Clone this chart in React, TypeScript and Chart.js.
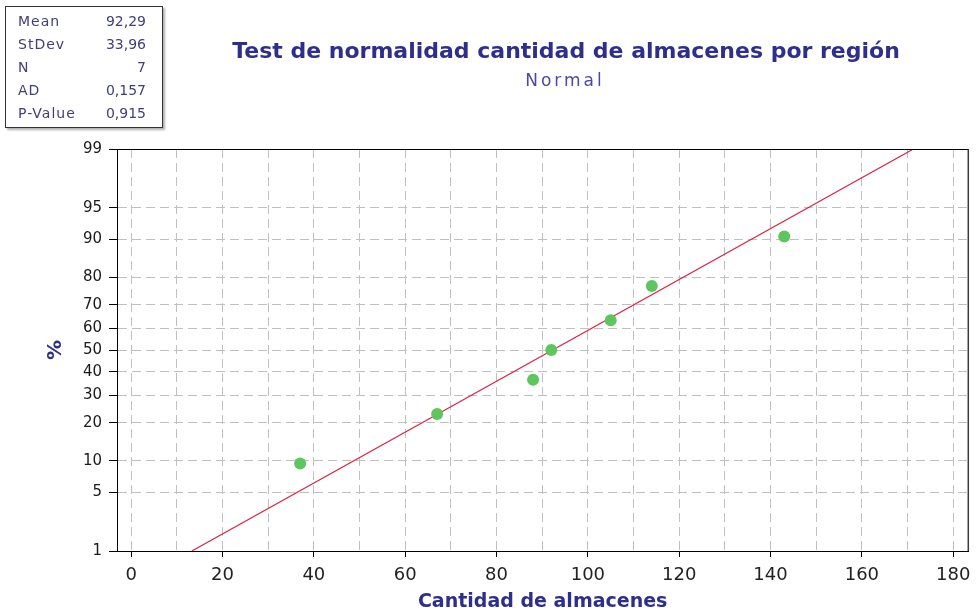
import React, { useEffect, useRef } from 'react';
import { Chart, registerables, LinearScale } from 'chart.js';

// ---------------- data ----------------
const storeCounts = [37, 67, 88, 92, 105, 114, 143];
const percentPoints = [9.46, 22.97, 36.49, 50, 63.51, 77.03, 90.54];
const fitLineX = [13.29, 171.29];
const fitLineY = [1, 99];
const yTickValues = [1, 5, 10, 20, 30, 40, 50, 60, 70, 80, 90, 95, 99];
const xGridValues = [0, 10, 20, 30, 40, 50, 60, 70, 80, 90, 100, 110, 120, 130, 140, 150, 160, 170, 180];
const xLabelStep = 20;
const xMin = -3.1;
const xMax = 183.3;
const yMin = 1;
const yMax = 99;
const statLabels = ['Mean', 'StDev', 'N', 'AD', 'P-Value'];
const statValues = ['92,29', '33,96', '7', '0,157', '0,915'];
const chartTitle = 'Test de normalidad cantidad de almacenes por región';
const chartSubtitle = 'Normal';
const xAxisTitle = 'Cantidad de almacenes';
const yAxisTitle = '%';

// ---------------- normal helpers ----------------
function normInv(p: number): number {
  p = Math.min(Math.max(p, 1e-12), 1 - 1e-12);
  const a = [-3.969683028665376e1, 2.209460984245205e2, -2.759285104469687e2, 1.38357751867269e2, -3.066479806614716e1, 2.506628277459239];
  const b = [-5.447609879822406e1, 1.615858368580409e2, -1.556989798598866e2, 6.680131188771972e1, -1.328068155288572e1];
  const c = [-7.784894002430293e-3, -3.223964580411365e-1, -2.400758277161838, -2.549732539343734, 4.374664141464968, 2.938163982698783];
  const d = [7.784695709041462e-3, 3.224671290700398e-1, 2.445134137142996, 3.754408661907416];
  const pl = 0.02425;
  const ph = 1 - pl;
  if (p < pl) {
    const q = Math.sqrt(-2 * Math.log(p));
    return (((((c[0] * q + c[1]) * q + c[2]) * q + c[3]) * q + c[4]) * q + c[5]) / ((((d[0] * q + d[1]) * q + d[2]) * q + d[3]) * q + 1);
  }
  if (p <= ph) {
    const q = p - 0.5;
    const r = q * q;
    return ((((((a[0] * r + a[1]) * r + a[2]) * r + a[3]) * r + a[4]) * r + a[5]) * q) / (((((b[0] * r + b[1]) * r + b[2]) * r + b[3]) * r + b[4]) * r + 1);
  }
  const q = Math.sqrt(-2 * Math.log(1 - p));
  return -(((((c[0] * q + c[1]) * q + c[2]) * q + c[3]) * q + c[4]) * q + c[5]) / ((((d[0] * q + d[1]) * q + d[2]) * q + d[3]) * q + 1);
}

function normCdf(z: number): number {
  const t = 1 / (1 + 0.3275911 * Math.abs(z) / Math.SQRT2);
  const y = 1 - (((((1.061405429 * t - 1.453152027) * t + 1.421413741) * t - 0.284496736) * t + 0.254829592) * t) * Math.exp(-(z * z) / 2);
  return z >= 0 ? 0.5 * (1 + y) : 0.5 * (1 - y);
}

// ---------------- probability (probit) scale ----------------
class ProbitScale extends LinearScale {
  static id = 'probit';
  static defaults = LinearScale.defaults;

  getPixelForValue(value: any) {
    if (value === null || value === undefined || isNaN(value)) return NaN;
    const z0 = normInv(this.min / 100);
    const z1 = normInv(this.max / 100);
    const z = normInv(value / 100);
    return this.getPixelForDecimal((z - z0) / (z1 - z0));
  }

  getValueForPixel(pixel: number) {
    const z0 = normInv(this.min / 100);
    const z1 = normInv(this.max / 100);
    const dec = this.getDecimalForPixel(pixel);
    return 100 * normCdf(z0 + dec * (z1 - z0));
  }
}

Chart.register(...registerables, ProbitScale as any);

const INK = '#2e2e8c';
const GRID = '#c0c0c0';

const framePlugin = {
  id: 'frameLines',
  afterDraw(chart: any) {
    const { ctx, chartArea } = chart;
    ctx.save();
    ctx.strokeStyle = '#000';
    ctx.lineWidth = 1;
    ctx.beginPath();
    ctx.moveTo(chartArea.left, Math.round(chartArea.top) + 0.5);
    ctx.lineTo(chartArea.right, Math.round(chartArea.top) + 0.5);
    ctx.stroke();
    ctx.strokeStyle = '#3a3a3a';
    ctx.lineWidth = 1.5;
    ctx.beginPath();
    ctx.moveTo(chartArea.right, chartArea.top);
    ctx.lineTo(chartArea.right, chartArea.bottom);
    ctx.stroke();
    ctx.restore();
  },
};

function ProbPlot() {
  const ref = useRef<HTMLCanvasElement | null>(null);
  useEffect(() => {
    if (!ref.current) return;
    const chart = new Chart(ref.current, {
      type: 'scatter',
      data: {
        datasets: [
          {
            label: 'Datos',
            data: storeCounts.map((x, i) => ({ x, y: percentPoints[i] })),
            pointRadius: 6,
            pointBackgroundColor: '#5ec65e',
            pointBorderWidth: 0,
            pointBorderColor: '#5ec65e',
            showLine: false,
          },
          {
            label: 'Ajuste',
            data: fitLineX.map((x, i) => ({ x, y: fitLineY[i] })),
            showLine: true,
            borderColor: '#dc2340',
            borderWidth: 1.2,
            pointRadius: 0,
            fill: false,
          },
        ],
      },
      options: {
        animation: false,
        responsive: false,
        maintainAspectRatio: false,
        layout: { padding: { top: 149, right: 7.7, bottom: 0, left: 0 } },
        plugins: {
          legend: { display: false },
          tooltip: { enabled: false },
          title: { display: false },
        },
        scales: {
          x: {
            type: 'linear',
            position: 'bottom',
            min: xMin,
            max: xMax,
            afterBuildTicks: (s: any) => {
              s.ticks = xGridValues.map((v) => ({ value: v }));
            },
            afterFit: (s: any) => {
              s.height = 61;
              s.paddingLeft = 0;
              s.paddingRight = 0;
            },
            ticks: {
              autoSkip: false,
              maxRotation: 0,
              padding: 8,
              color: '#222',
              font: { family: 'DejaVu Sans', size: 18 },
              callback: (v: any) => (Number(v) % xLabelStep === 0 ? String(v) : ''),
            },
            grid: {
              color: GRID,
              lineWidth: 1,
              drawTicks: true,
              tickLength: 6,
              tickColor: (c: any) => (c.tick && c.tick.value % xLabelStep === 0 ? '#000' : 'rgba(0,0,0,0)'),
              tickWidth: 1,
            },
            border: { display: true, color: '#000', width: 1, dash: [9, 5] },
            title: {
              display: true,
              text: xAxisTitle,
              color: INK,
              font: { family: 'DejaVu Sans', size: 19, weight: 'bold', lineHeight: 1 },
              padding: 0,
            },
          },
          y: {
            type: 'probit' as any,
            position: 'left',
            min: yMin,
            max: yMax,
            afterBuildTicks: (s: any) => {
              s.ticks = yTickValues.map((v) => ({ value: v }));
            },
            afterFit: (s: any) => {
              s.width = 117;
              s.paddingTop = 0;
              s.paddingBottom = 0;
            },
            ticks: {
              autoSkip: false,
              padding: 7,
              color: '#1a1a1a',
              font: { family: 'DejaVu Sans', size: 15 },
              callback: (v: any) => String(v),
            },
            grid: {
              color: (c: any) => (c.tick && (c.tick.value === yMin || c.tick.value === yMax) ? 'rgba(0,0,0,0)' : GRID),
              lineWidth: 1,
              drawTicks: true,
              tickLength: 8,
              tickColor: '#000',
              tickWidth: 1,
            },
            border: { display: true, color: '#000', width: 1, dash: [9, 5] },
            title: {
              display: true,
              text: yAxisTitle,
              color: INK,
              font: { family: 'DejaVu Sans', size: 20, weight: 'bold', lineHeight: 1.2 },
              padding: { top: 44, bottom: 0 },
            },
          },
        },
      },
      plugins: [framePlugin],
    } as any);
    return () => chart.destroy();
  }, []);
  return <canvas ref={ref} width={976} height={612} style={{ display: 'block', width: 976, height: 612 }} />;
}

export default function App() {
  return (
    <div style={{ position: 'absolute', left: 0, top: 0, width: 976, height: 612, background: '#fff', overflow: 'hidden' }}>
      <ProbPlot />
      <div
        style={{
          position: 'absolute',
          left: 566,
          top: 40,
          transform: 'translateX(-50%)',
          whiteSpace: 'nowrap',
          fontFamily: 'DejaVu Sans',
          fontWeight: 'bold',
          fontSize: 22,
          lineHeight: '22px',
          color: INK,
        }}
      >
        {chartTitle}
      </div>
      <div
        style={{
          position: 'absolute',
          left: 565,
          top: 72,
          transform: 'translateX(-50%)',
          whiteSpace: 'nowrap',
          fontFamily: 'DejaVu Sans',
          fontSize: 17,
          lineHeight: '17px',
          letterSpacing: 3,
          color: '#4a4aa2',
        }}
      >
        {chartSubtitle}
      </div>
      <div
        style={{
          position: 'absolute',
          left: 5,
          top: 6,
          width: 158,
          height: 122,
          boxSizing: 'border-box',
          border: '1px solid #333',
          boxShadow: '2px 2px 2px #b0b0b0',
          background: '#fff',
          padding: '3px 16px 0 12px',
          fontFamily: 'DejaVu Sans',
          fontSize: 14,
          color: '#40407a',
        }}
      >
        {statLabels.map((lab, i) => (
          <div key={lab} style={{ display: 'flex', justifyContent: 'space-between', height: 23, lineHeight: '23px', letterSpacing: 1 }}>
            <span>{lab}</span>
            <span style={{ letterSpacing: 0 }}>{statValues[i]}</span>
          </div>
        ))}
      </div>
    </div>
  );
}
